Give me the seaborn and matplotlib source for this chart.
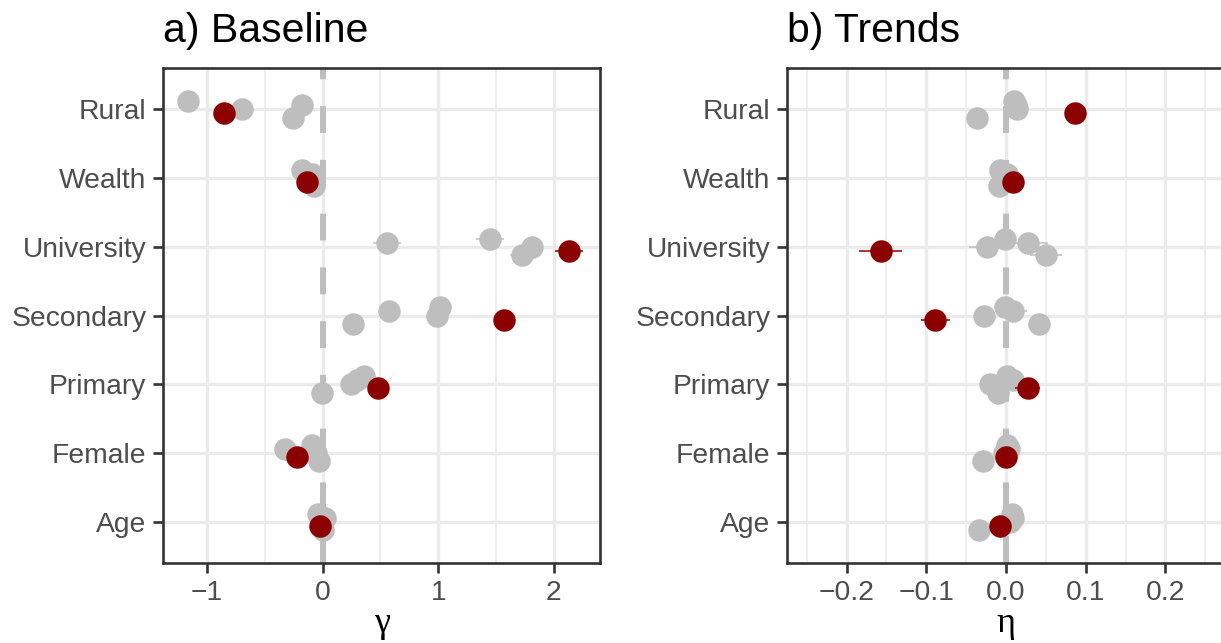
import numpy as np
import pandas as pd
import matplotlib
matplotlib.use("Agg")
import matplotlib.pyplot as plt
from matplotlib.ticker import MultipleLocator
import seaborn as sns

# ---------------- data ----------------
categories = ["Rural", "Wealth", "University", "Secondary", "Primary", "Female", "Age"]
models = ["Model 1", "Model 2", "Model 3", "Pooled", "Model 5"]
highlight = "Pooled"

# baseline (gamma) estimates, one list per model, in category order
gamma_m1 = [-1.163, -0.177, 1.446, 1.015, 0.36, -0.096, -0.038]
gamma_m2 = [-0.18, -0.09, 0.554, 0.574, 0.30, -0.328, 0.020]
gamma_m3 = [-0.70, -0.12, 1.81, 0.99, 0.245, -0.06, -0.01]
gamma_pooled = [-0.85, -0.133, 2.13, 1.565, 0.48, -0.22, -0.02]
gamma_m5 = [-0.255, -0.077, 1.72, 0.26, -0.01, -0.03, 0.0]

gamma_err_m1 = [0.05, 0.04, 0.12, 0.06, 0.05, 0.04, 0.03]
gamma_err_m2 = [0.05, 0.04, 0.12, 0.06, 0.05, 0.04, 0.03]
gamma_err_m3 = [0.05, 0.04, 0.10, 0.06, 0.05, 0.04, 0.03]
gamma_err_pooled = [0.04, 0.03, 0.12, 0.05, 0.04, 0.03, 0.02]
gamma_err_m5 = [0.05, 0.04, 0.10, 0.06, 0.05, 0.04, 0.03]

# trend (eta) estimates
eta_m1 = [0.0105, -0.0076, -0.001, -0.001, 0.0017, 0.0017, 0.007]
eta_m2 = [0.012, 0.001, 0.027, 0.0085, 0.009, 0.004, 0.009]
eta_m3 = [0.0143, -0.003, -0.024, -0.028, -0.020, -0.002, 0.005]
eta_pooled = [0.087, 0.0085, -0.157, -0.0886, 0.027, -0.0004, -0.0076]
eta_m5 = [-0.037, -0.0085, 0.050, 0.041, -0.0097, -0.029, -0.034]

eta_err_m1 = [0.006, 0.005, 0.010, 0.008, 0.006, 0.005, 0.004]
eta_err_m2 = [0.006, 0.005, 0.026, 0.018, 0.006, 0.005, 0.004]
eta_err_m3 = [0.006, 0.005, 0.023, 0.010, 0.006, 0.005, 0.004]
eta_err_pooled = [0.008, 0.006, 0.027, 0.018, 0.016, 0.006, 0.005]
eta_err_m5 = [0.006, 0.005, 0.020, 0.010, 0.006, 0.005, 0.004]

panel_titles = ["a) Baseline", "b) Trends"]
axis_labels = ["γ", "η"]

# ---------------- build long tables ----------------
def build(vals, errs):
    rows = []
    for m, v, e in zip(models, vals, errs):
        for c, vv, ee in zip(categories, v, e):
            rows.append(dict(category=c, model=m, value=vv, err=ee))
    return pd.DataFrame(rows)

df_gamma = build([gamma_m1, gamma_m2, gamma_m3, gamma_pooled, gamma_m5],
                 [gamma_err_m1, gamma_err_m2, gamma_err_m3, gamma_err_pooled, gamma_err_m5])
df_eta = build([eta_m1, eta_m2, eta_m3, eta_pooled, eta_m5],
               [eta_err_m1, eta_err_m2, eta_err_m3, eta_err_pooled, eta_err_m5])

n_cat = len(categories)
dodge = 0.06
slot = {m: (i - (len(models) - 1) / 2) * dodge for i, m in enumerate(models)}
cat_pos = {c: n_cat - 1 - i for i, c in enumerate(categories)}
for df in (df_gamma, df_eta):
    df["ypos"] = [cat_pos[c] - slot[m] for c, m in zip(df["category"], df["model"])]

# ---------------- style ----------------
sns.set_theme(style="white")
plt.rcParams["font.family"] = ["Liberation Sans", "DejaVu Sans"]

GREY = "#BEBEBE"
RED = "#8B0000"
DARK = "#333333"

W, H = 1221, 643
fig = plt.figure(figsize=(W / 100, H / 100), dpi=100)
top, bottom = 68, 563
axes_px = [(163.3, 600.0), (787.3, 1224.7)]
xlims = [(-1.379, 2.399), (-0.2745, 0.2745)]
majors = [1.0, 0.1]
minors = [0.5, 0.05]

for k, (df, (l, r)) in enumerate(zip([df_gamma, df_eta], axes_px)):
    ax = fig.add_axes([l / W, 1 - bottom / H, (r - l) / W, (bottom - top) / H])
    ax.set_facecolor("white")
    ax.set_xlim(*xlims[k])
    ax.set_ylim(-0.6, n_cat - 0.4)
    ax.xaxis.set_major_locator(MultipleLocator(majors[k]))
    ax.xaxis.set_minor_locator(MultipleLocator(minors[k]))
    ax.set_yticks(range(n_cat))
    ax.set_yticklabels(categories[::-1])
    if k == 1:
        ax.set_xticks([-0.2, -0.1, 0.0, 0.1, 0.2])
        ax.set_xticklabels(["\u22120.2", "\u22120.1", "0.0", "0.1", "0.2"])
    else:
        ax.set_xticks([-1, 0, 1, 2])
        ax.set_xticklabels(["\u22121", "0", "1", "2"])

    ax.grid(which="major", color="#EBEBEB", lw=2.4, zorder=0)
    ax.grid(which="minor", axis="x", color="#EBEBEB", lw=1.2, zorder=0)
    ax.set_axisbelow(True)

    ax.axvline(0, color=GREY, lw=4.3, dashes=(4.5, 4.5), zorder=1.5)

    grey_df = df[df["model"] != highlight]
    red_df = df[df["model"] == highlight]

    ax.errorbar(grey_df["value"], grey_df["ypos"], xerr=grey_df["err"], fmt="none",
                ecolor=GREY, elinewidth=1.1, capsize=0, zorder=2)
    sns.scatterplot(data=grey_df, x="value", y="ypos", color=GREY, s=262,
                    linewidth=0, ax=ax, zorder=3, legend=False)
    ax.errorbar(red_df["value"], red_df["ypos"], xerr=red_df["err"], fmt="none",
                ecolor=RED, elinewidth=1.1, capsize=0, zorder=4)
    sns.scatterplot(data=red_df, x="value", y="ypos", color=RED, s=262,
                    linewidth=0, ax=ax, zorder=5, legend=False)

    for s in ax.spines.values():
        s.set_visible(True)
        s.set_color(DARK)
        s.set_linewidth(1.9)
        s.set_zorder(6)

    ax.tick_params(axis="both", which="major", length=7.2, width=1.9, color=DARK,
                   labelcolor="#4D4D4D", labelsize=20.3, pad=5, direction="out",
                   bottom=True, left=True)
    ax.tick_params(axis="both", which="minor", length=0)

    ax.set_ylabel("")
    ax.set_xlabel(axis_labels[k], fontsize=26, color="black",
                  family=["Liberation Serif", "DejaVu Serif"], labelpad=1)
    ax.set_title(panel_titles[k], loc="left", fontsize=29.5, color="black", pad=19)

fig.savefig("out.png", dpi=100, facecolor="white")
